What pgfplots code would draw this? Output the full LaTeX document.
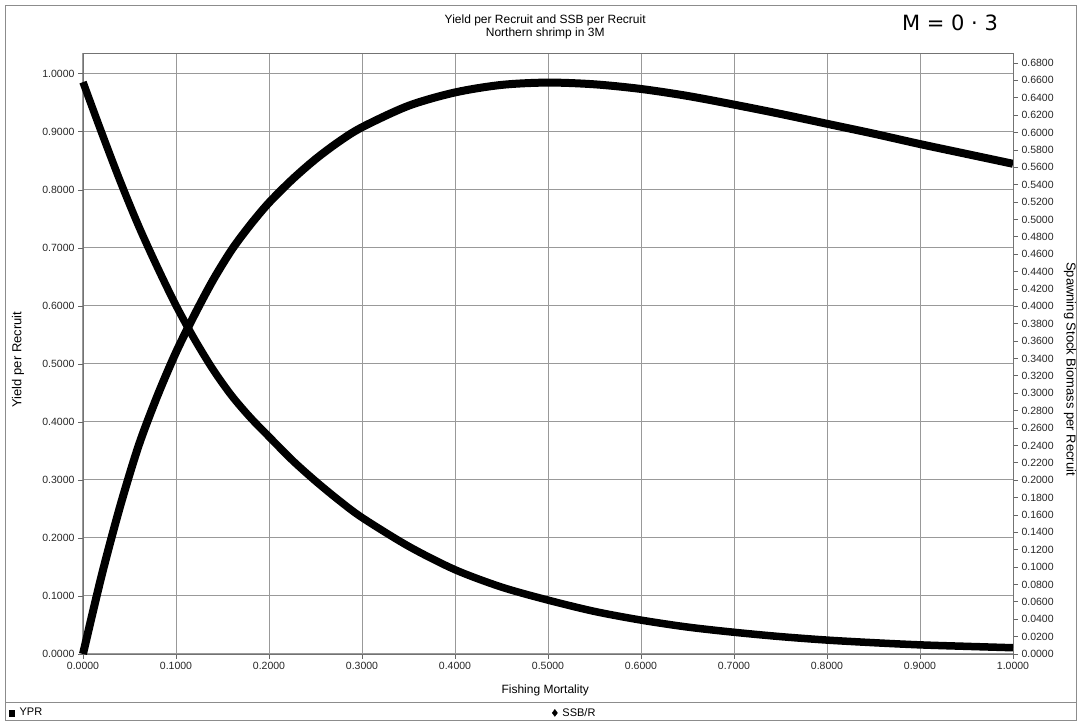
\documentclass[border=0pt]{standalone}
\usepackage{pgfplots}
\usepackage{pgfplotstable}
\pgfplotsset{compat=1.18}
\usepackage{fontspec}
\setmainfont{Liberation Sans}
\newfontfamily\handfont{DejaVu Sans}

\pgfplotstableread{
F ypr
0.00 0.000
0.02 0.135
0.04 0.255
0.06 0.360
0.08 0.445
0.10 0.520
0.12 0.585
0.14 0.645
0.16 0.697
0.18 0.740
0.20 0.778
0.225 0.818
0.25 0.853
0.275 0.883
0.30 0.908
0.35 0.945
0.40 0.968
0.45 0.981
0.50 0.985
0.55 0.982
0.60 0.974
0.65 0.962
0.70 0.947
0.75 0.931
0.80 0.914
0.85 0.897
0.90 0.879
0.95 0.862
1.00 0.845
}\yprtable

\pgfplotstableread{
F ssb
0.00 0.658
0.02 0.600
0.04 0.544
0.06 0.492
0.08 0.445
0.10 0.401
0.12 0.362
0.14 0.327
0.16 0.297
0.18 0.272
0.20 0.250
0.225 0.223
0.25 0.199
0.275 0.177
0.30 0.157
0.35 0.124
0.40 0.097
0.45 0.077
0.50 0.062
0.55 0.049
0.60 0.039
0.65 0.031
0.70 0.025
0.75 0.020
0.80 0.016
0.85 0.013
0.90 0.0105
0.95 0.0088
1.00 0.0072
}\ssbtable

\pgfplotsset{
  common/.style={
    at={(83pt,69pt)}, anchor=south west,
    scale only axis, width=930pt, height=601pt,
    xmin=0, xmax=1,
    clip=false,
    axis line style={black!55, line width=0.9pt},
    tick style={black!60, line width=0.8pt},
    tick align=outside,
    major tick length=5pt,
    /pgf/number format/fixed,
    /pgf/number format/fixed zerofill,
    /pgf/number format/precision=4,
    /pgf/number format/assume math mode=true,
    ticklabel style={font=\fontsize{10.5}{12}\selectfont, text=black!85},
  }
}

\begin{document}
\begin{tikzpicture}[x=1pt,y=1pt]
\path[use as bounding box] (0,0) rectangle (1077,723);
\draw[black!45, line width=1pt] (5,2) rectangle (1076,717);
\draw[black!45, line width=1pt] (5,20) -- (1076,20);
\node[font=\handfont\fontsize{21}{21}\selectfont] at (950,700) {M = 0 · 3};

\begin{axis}[common,
  ymin=0, ymax=1.036,
  xtick={0,0.1,0.2,0.3,0.4,0.5,0.6,0.7,0.8,0.9,1.0},
  ytick={0,0.1,0.2,0.3,0.4,0.5,0.6,0.7,0.8,0.9,1.0},
  axis x line*=bottom, axis y line*=left,
  grid=major, grid style={black!40, line width=1pt},
  xlabel={Fishing Mortality}, ylabel={Yield per Recruit},
  xlabel style={at={(axis description cs:0.497,0)}, anchor=center, yshift=-36pt, font=\fontsize{12}{14}\selectfont},
  ylabel style={at={(axis description cs:-0.0699,0.49)}, anchor=center, font=\fontsize{13}{14}\selectfont},
  title={Yield per Recruit and SSB per Recruit\\Northern shrimp in 3M},
  title style={at={(axis description cs:0.497,1)}, anchor=center, yshift=20pt, align=center, font=\fontsize{12}{12.5}\selectfont},
  legend columns=2,
  legend cell align=left,
  legend style={at={(axis description cs:-0.083,-0.098)}, anchor=west, draw=none, fill=none,
    font=\fontsize{11}{12}\selectfont,
    /tikz/every odd column/.append style={column sep=3pt},
    /tikz/every even column/.append style={column sep=508pt}},
]
\addplot[black, line width=8pt, smooth, forget plot] table[x=F, y=ypr] {\yprtable};
\addlegendimage{only marks, mark=square*, mark size=2.8pt, black}
\addlegendentry{YPR}
\addlegendimage{only marks, mark=diamond*, mark size=3.5pt, black}
\addlegendentry{SSB/R}
\end{axis}

\begin{axis}[common,
  ymin=0, ymax=0.6915,
  ytick distance=0.02,
  axis x line=none, axis y line*=right,
  ylabel={Spawning Stock Biomass per Recruit},
  ylabel style={at={(axis description cs:1.0613,0.474)}, anchor=center, rotate=180, font=\fontsize{13}{14}\selectfont},
]
\draw[black!55, line width=0.9pt] (axis description cs:0,1) -- (axis description cs:1,1);
\addplot[black, line width=7.5pt, smooth] table[x=F, y=ssb] {\ssbtable};
\end{axis}
\end{tikzpicture}
\end{document}
